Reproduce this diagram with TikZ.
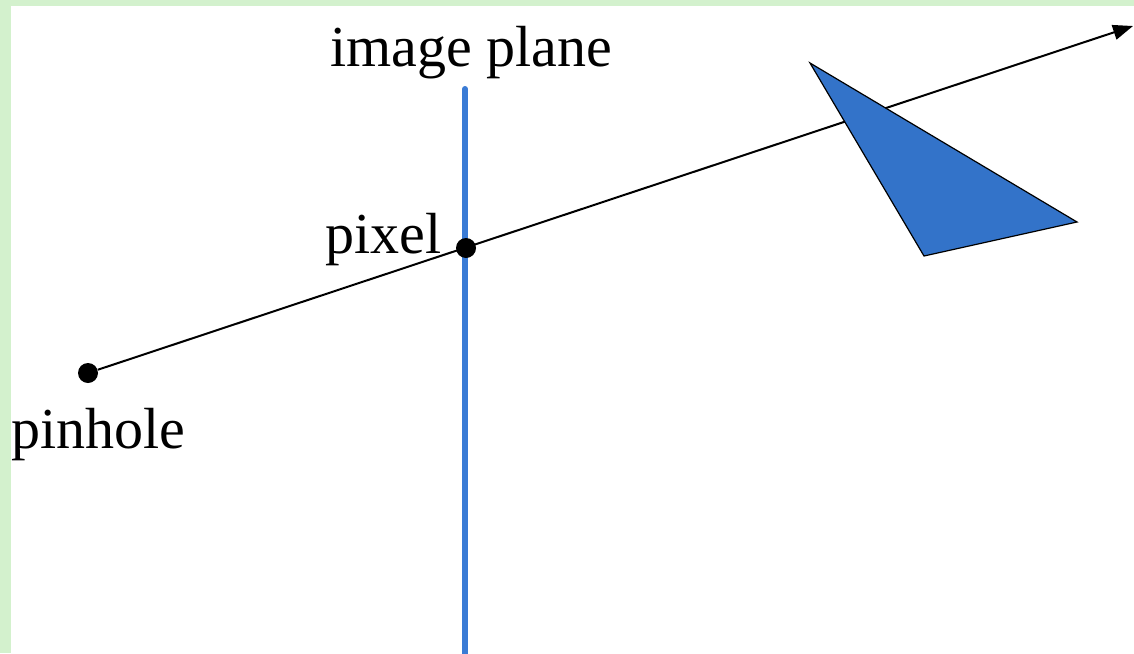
\documentclass[tikz,border=0pt]{standalone}
\usepackage{fontspec}
\setmainfont{Liberation Serif}
\usetikzlibrary{arrows.meta,positioning}
\definecolor{bgreen}{HTML}{D3F1CD}
\definecolor{planeblue}{HTML}{3A7BD5}
\definecolor{triblue}{HTML}{3373C9}
\tikzset{
  >={Triangle[length=10pt,width=7.5pt]},
  dot/.style={circle,fill=black,inner sep=0pt,minimum size=10pt},
  lab/.style={font=\fontsize{29}{31}\selectfont,inner sep=0pt},
  ray/.style={->,line width=1pt},
  plane/.style={draw=planeblue,line width=3pt,line cap=round},
}
\begin{document}
\begin{tikzpicture}[x=0.5pt,y=-0.5pt]
\fill[bgreen] (0,0) rectangle (1134,653);
\fill[white] (11,6) rectangle (1134,653);
\useasboundingbox (0,0) rectangle (1134,653);
% image plane
\coordinate (ptop) at (465,89);
\coordinate (pbot) at (465,660);
\draw[plane] (ptop) -- (pbot);
\node[lab,above=5pt of ptop,xshift=3pt] (planelab) {image plane};
% ray through the pixel
\node[dot] (pinhole) at (88,373) {};
\node[dot] (pixel) at (466,248) {};
\coordinate (far) at (1133,26);
\draw[ray] (pinhole) -- (far);
\node[lab,below=12pt of pinhole,xshift=5pt] (pinlab) {pinhole};
\node[lab,left=7pt of pixel,yshift=4pt] (pixlab) {pixel};
% object hit by the ray
\filldraw[fill=triblue,draw=black,line width=0.6pt] (810,63) -- (1077,222) -- (924,256) -- cycle;
\end{tikzpicture}
\end{document}
